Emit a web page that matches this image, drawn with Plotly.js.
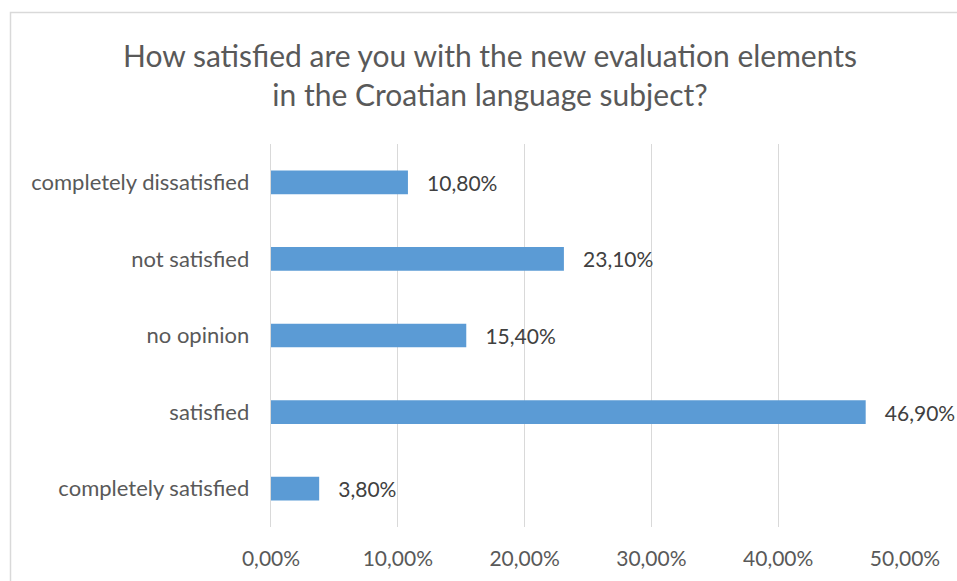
<!DOCTYPE html>
<html>
<head>
<meta charset="utf-8">
<script src="https://cdn.plot.ly/plotly-3.0.1.min.js"></script>
<style>html,body{margin:0;padding:0;background:#fff;}#chart{width:957px;height:581px;}</style>
</head>
<body>
<div id="chart"></div>
<script>
const categories = ["completely dissatisfied", "not satisfied", "no opinion", "satisfied", "completely satisfied"];
const shares = [0.108, 0.231, 0.154, 0.469, 0.038];
const xTickValues = [0, 0.1, 0.2, 0.3, 0.4, 0.5];
const titleText = "How satisfied are you with the new evaluation elements<br>in the Croatian language subject?";

const W = 957, H = 581;
const m = {l: 271, r: 52, t: 144, b: 54};
const pw = W - m.l - m.r, ph = H - m.t - m.b;
const px = v => (v - m.l) / pw;
const py = v => (H - m.b - v) / ph;

const font = "Lato, 'Open Sans', sans-serif";

Plotly.newPlot("chart", [{
  type: "bar",
  orientation: "h",
  y: categories,
  x: shares,
  marker: {color: "#5B9BD5"},
  texttemplate: "\u00a0\u00a0\u00a0%{x:.2%}",
  textposition: "outside",
  cliponaxis: false,
  constraintext: "none",
  textfont: {family: font, size: 21, color: "#404040"},
  hoverinfo: "skip"
}], {
  width: W, height: H,
  margin: m,
  separators: ",.",
  paper_bgcolor: "#fff",
  plot_bgcolor: "#fff",
  showlegend: false,
  bargap: 0.69,
  font: {family: font, color: "#595959"},
  title: {
    text: titleText,
    font: {family: font, size: 30, color: "#595959"},
    x: 490 / W, xanchor: "center", xref: "container",
    y: 1 - 67 / H, yanchor: "middle", yref: "container"
  },
  xaxis: {
    range: [0, 0.5],
    tickvals: xTickValues,
    tickformat: ".2%",
    showgrid: true,
    gridcolor: "#D9D9D9",
    gridwidth: 1.3,
    zeroline: false,
    showline: false,
    ticks: "outside", ticklen: 13, tickcolor: "rgba(0,0,0,0)",
    tickfont: {family: font, size: 21, color: "#595959"},
    fixedrange: true
  },
  yaxis: {
    autorange: "reversed",
    showline: true,
    linecolor: "#D9D9D9",
    linewidth: 1.3,
    showgrid: false,
    ticks: "outside", ticklen: 16, tickcolor: "rgba(0,0,0,0)",
    tickfont: {family: font, size: 22, color: "#595959"},
    fixedrange: true
  },
  shapes: [{
    type: "rect", xref: "paper", yref: "paper",
    x0: px(10.5), x1: px(960), y0: py(590), y1: py(12.5),
    line: {color: "#D9D9D9", width: 1.5}
  }]
}, {staticPlot: true});
</script>
</body>
</html>
